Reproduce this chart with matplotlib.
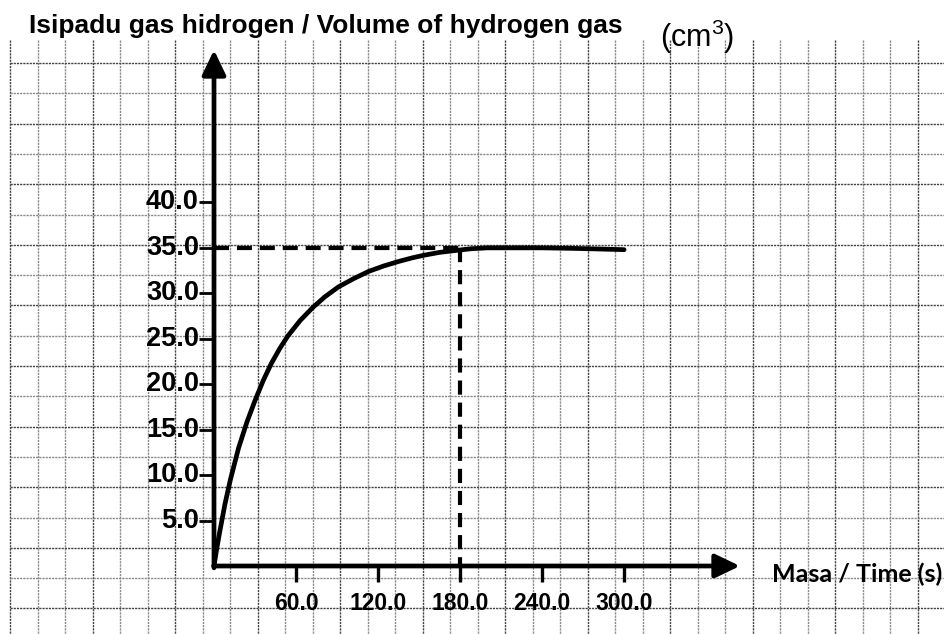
import matplotlib
matplotlib.use('Agg')
import matplotlib.pyplot as plt
import numpy as np

# values: time (s) -> volume of H2 (cm3)
time_s = [0, 2, 4, 8, 12, 18, 24, 30, 36, 42, 48, 54, 63, 72, 81, 91, 102, 113,
          124, 135, 145, 154, 165, 176, 188, 200, 220, 240, 260, 275, 300]
volume_cm3 = [0, 1.9, 3.6, 6.8, 9.5, 13.0, 15.8, 18.2, 20.4, 22.3, 23.9, 25.3,
              27.0, 28.4, 29.6, 30.7, 31.6, 32.4, 33.0, 33.5, 33.9, 34.2, 34.5,
              34.7, 34.9, 35.0, 35.0, 35.0, 34.95, 34.9, 34.8]

x_ticks = [60, 120, 180, 240, 300]
x_tick_labels = ['60.0', '120.0', '180.0', '240.0', '300.0']
y_ticks = [5, 10, 15, 20, 25, 30, 35, 40]
y_tick_labels = ['5.0', '10.0', '15.0', '20.0', '25.0', '30.0', '35.0', '40.0']

max_volume = 35.0
time_at_max = 180.0

title_text = 'Isipadu gas hidrogen / Volume of hydrogen gas'
unit_text = r'(cm$^{\mathrm{3}}$)'
xlabel_text = 'Masa / Time (s)'

# page geometry (pixels)
W, H = 944, 634
X0, Y0 = 214, 566          # origin of the axes on the page
PX_PER_S = 1.367
PX_PER_CM3 = 9.09

plt.rcParams['mathtext.fontset'] = 'custom'
plt.rcParams['mathtext.rm'] = 'Liberation Sans'

fig = plt.figure(figsize=(W / 100, H / 100), dpi=100)
fig.patch.set_facecolor('white')

# graph paper in page pixels
bg = fig.add_axes([0, 0, 1, 1])
bg.set_xlim(0, W)
bg.set_ylim(H, 0)
bg.axis('off')
for i, gx in enumerate(np.arange(10, W, 27.5)):
    bg.plot([gx, gx], [40, H], color='#444444' if i % 3 == 0 else '#8a8a8a',
            lw=1.0, ls=(0, (1.6, 0.7)), zorder=0)
for i, gy in enumerate(np.arange(63, H, 30.3)):
    bg.plot([10, W], [gy, gy], color='#444444' if i % 2 == 0 else '#8a8a8a',
            lw=1.0, ls=(0, (1.6, 0.7)), zorder=0)

bg.text(29, 33, title_text, fontsize=19, fontweight='bold',
        family='Liberation Sans', ha='left', va='baseline')
bg.text(660, 47, unit_text, fontsize=22, family='Liberation Sans',
        ha='left', va='baseline')
bg.text(772, 582, xlabel_text, fontsize=18, fontweight='bold',
        family='Lato', ha='left', va='baseline', clip_on=False)

# the chart itself, scaled so the data lands where it was drawn
ax = fig.add_axes([0, 0, 1, 1])
ax.patch.set_alpha(0)
ax.set_xlim(-X0 / PX_PER_S, (W - X0) / PX_PER_S)
ax.set_ylim(-(H - Y0) / PX_PER_CM3, Y0 / PX_PER_CM3)
ax.axis('off')

x_tip = (740 - X0) / PX_PER_S
y_tip = (Y0 - 50) / PX_PER_CM3
arrow = dict(arrowstyle='-|>,head_length=0.75,head_width=0.36', color='black',
             lw=3.4, mutation_scale=20, shrinkA=0, shrinkB=0)
ax.annotate('', xy=(0, y_tip), xytext=(0, -0.2), arrowprops=arrow)
ax.annotate('', xy=(x_tip, 0), xytext=(-0.2, 0), arrowprops=arrow)

tick_x = 15 / PX_PER_S
tick_y = 16 / PX_PER_CM3
for v, lab in zip(y_ticks, y_tick_labels):
    ax.plot([-tick_x, 0], [v, v], color='black', lw=2.0, solid_capstyle='butt')
    ax.text(-tick_x, v, lab, fontsize=19.5, fontweight='bold', family='Liberation Sans',
            ha='right', va='center')
for t, lab in zip(x_ticks, x_tick_labels):
    ax.plot([t, t], [0, -tick_y], color='black', lw=2.4, solid_capstyle='butt')
    ax.text(t, -38 / PX_PER_CM3, lab, fontsize=16.5, fontweight='bold',
            family='Liberation Sans', ha='center', va='center')

# dashed guide lines at the maximum volume
ax.plot([0, time_at_max], [max_volume, max_volume], color='black', lw=3.0,
        ls=(0, (3.6, 1.9)))
ax.plot([time_at_max, time_at_max], [max_volume, 0], color='black', lw=3.0,
        ls=(0, (3.4, 1.9)))

ax.plot(time_s, volume_cm3, color='black', lw=3.4, solid_joinstyle='round',
        solid_capstyle='round')

fig.savefig('out.png', dpi=100, facecolor='white')
